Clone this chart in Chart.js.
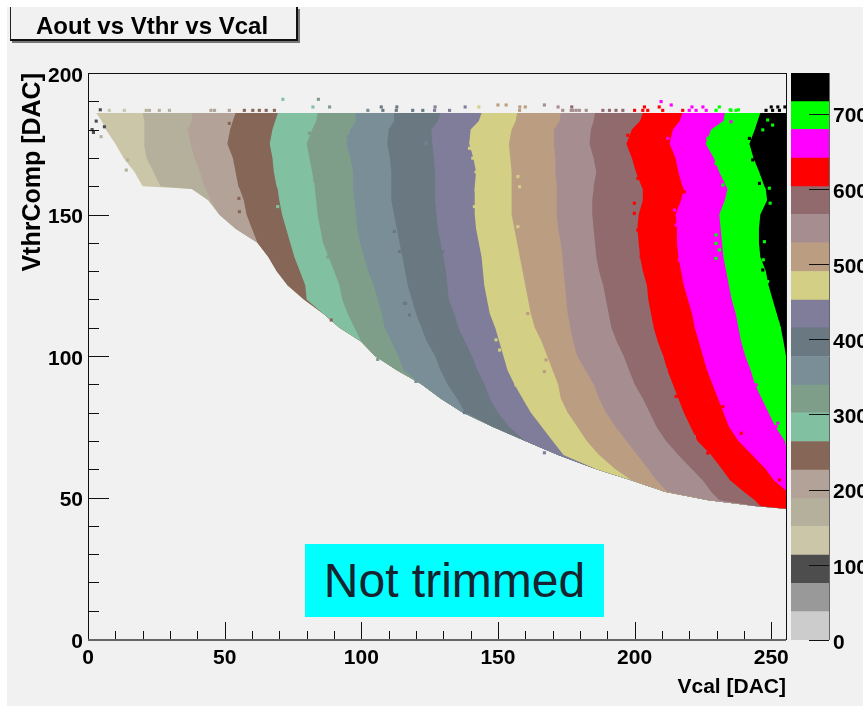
<!DOCTYPE html>
<html>
<head>
<meta charset="utf-8">
<style>
html, body { margin: 0; padding: 0; background: #fff; overflow: hidden; }
#panel { position: absolute; left: 7px; top: 7px; width: 856px; height: 699px; background: #f1f1f1; }
#plot { position: absolute; left: 0; top: 0; }
#zbar { position: absolute; left: 791px; top: 0; }
#title { position: absolute; left: 10px; top: 7px; width: 285px; height: 32px; background: #f1f1f1; box-sizing: content-box;
  border-left: 1px solid #222; border-right: 2px solid #111; border-bottom: 2px solid #111; box-shadow: 2px 2px 0 #777;
  font: bold 24px "Liberation Sans", Arial, sans-serif; color: #000; line-height: 38px; text-indent: 25px; white-space: nowrap; }
#note { position: absolute; left: 305px; top: 544px; width: 299px; height: 73px; background: #00ffff;
  font: 48px "Liberation Sans", Arial, sans-serif; color: #17232e; line-height: 73px; text-align: center; }
</style>
</head>
<body>
<div id="panel"></div>
<canvas id="plot" width="863" height="706"></canvas>
<canvas id="zbar" width="72" height="706"></canvas>
<div id="title">Aout vs Vthr vs Vcal</div>
<div id="note">Not trimmed</div>
<script src="https://cdn.jsdelivr.net/npm/chart.js@4/dist/chart.umd.js"></script>
<script>
const rowsY = [46,47,49,52,56,60,65,70,75,80,85,90,95,100,105,110,115,120,125,130,135,140,145,150,155,159,160,165,170,175,180,183,185.9];

// Vcal position of each edge, one value per row
const edge0  = [255,244,227,211,199,186,172,160,148,137,129,122,113,105,100,92,86,79,73,69,66,62,54,48,44,38,20,17,13,10,6.5,5,3];
const edge1  = [255,244,227,211,199,186,172,160,148,137,129,122,113,105,100,92,86,79,73,69,66,62,54,48,44,38,26.5,24,21.4,20.5,20.5,20.7,20];
const edge2  = [255,244,227,211,199,186,172,160,148,137,129,122,113,105,100,92,86,79,73,69,66,62,54,48,45,43,42.5,41,39,37.5,36.5,38,38];
const edge3  = [255,244,227,211,199,186,172,160,148,137,129,122,113,105,100,92,86,79,73,69,66,62,60,58,57,55.5,55,54,53,51,52,53,54];
const edge4  = [255,244,227,211,199,186,172,160,148,137,129,122,113,105,100,92,86,80,79.5,77.5,75.5,74,72.5,71,70,69.4,69,68,67.5,66.5,67.5,68.5,69.5];
const edge5  = [255,244,227,211,199,186,172,160,148,137,129,122,113,105,100,97.5,95,93,92,90,88,86,85,84,83.5,83,83,82,81,80,82,83.5,84];
const edge6  = [255,244,227,211,199,186,172,160,148,137,129,122,115.5,113.5,111,108.5,107.5,106,104.5,102.5,101,99.5,98.5,98,97.5,97,97,97,96,94.5,96,98,98];
const edge7  = [255,244,227,211,199,186,172,160,148,138,135,131.5,129,127,124,122,120,118.5,117,116,115,114,113,112,111,111,111,111,110.5,109.5,110,112,112];
const edge8  = [255,244,227,211,199,186,172,160,154,150,147,145,142.5,140.5,138,135.5,134,132,131.5,131,130,129,128,127.5,127,127,127,127,126.5,126,125.6,128,129];
const edge9  = [255,244,227,211,199,186,174,170,166,162,159,156,153.5,152,150.5,149,147,146,145,144.5,144,143,142,141.5,141.5,141.5,141.5,142,141,139.5,140,143,144];
const edge10 = [255,244,227,211,199,193,187,182.5,179,175.5,173,172,170,168,166,163.5,162,161,160,159,158,157,156,155,155,155,155,155,154.5,154,155,156.5,157];
const edge11 = [255,244,227,212,208,205,201,197,193,189.5,187,185,182,179,177.5,176.5,175.5,175,174.5,174,173.6,173,172,171.5,171.5,171.5,171.5,171,171,170.5,170.5,172.5,173];
const edge12 = [255,244,231,228,225,221,216,211.5,208,205.5,203,200,198,196,193.5,191.5,190.5,189.5,188.5,187,186,185.5,185,184.5,184.5,185,185,186,185,183.5,184,185,185.5];
const edge13 = [255,246,244,240,235,232,228,223,220.5,218,216,214,212,210.5,208.5,207,206,205,204.5,203,202,201.5,201,201.5,203,203,202.5,200.5,199,197,199,202,203];
const edge14 = [256,256,256,256,251,248,243,238,234.5,232.5,230.5,228.5,226.5,225,223.5,222,221,219.5,218,217,216,215.5,215.5,215,217,218,217.5,216,215,212.8,214,216.5,217.5];
const edge15 = [256,256,256,256,256,256,256,255,251.5,249,246.5,244,242.5,240.5,239,238,237,235.5,234.5,233.5,232.5,232,231.5,231,233,234,233.5,231,229,226,228,232.5,233];
const edge16 = [256,256,256,256,256,256,256,256,256,256,256,256,256,255.4,254.5,253.5,252,250.5,249,248,246,245.5,245.5,246,248.5,248,247.5,245.6,243.5,242,244,245,246];
const edge17 = [256,256,256,256,256,256,256,256,256,256,256,256,256,256,256,256,256,256,256,256,256,256,256,256,256,256,256,256,256,256,256,256,256];

// palette, lowest level first
const zColours = ['#cccccc','#999999','#4d4d4d','#cbc6a8','#b5b09c','#b3a297','#866656','#82c0a2','#7f9e8a','#7a8e98','#6a7882','#7f7d99','#d3cf85','#bb9e82','#a68e90','#916a6e','#ff0000','#ff00ff','#00ff00','#000000'];
const zLevels = [0,37.7,75.4,113,151,188,226,264,302,339,377,415,452,490,528,566,603,641,679,716,754];
const zTicks = [0,100,200,300,400,500,600,700];

// bins sticking out of the bands: Vcal, Vthr, palette index
const strayBins = [
    // above the top edge
    [71.3,190.7,7],[84.3,190.7,8],[82.3,188,7],[88.4,188,8],[107.3,188,10],[113,188,10],[127,188,11],[138,188,11],[143,188,12],
    [150,188.7,13],[153,188.7,13],[158,188,13],[160,188,13],[167,188.7,14],[172,188,14],[177,188,15],
    [209.7,189.9,17],[213.4,188.7,17],[221,188,17],[225,188,17],[231,188,18],[235,187,18],[238,187,18],[250,188,19],[252.4,188,19],[255,188,19],[203.6,188,16],[209,188,16],
    [7.8,186.8,3],[13.3,186.8,3],[21.3,186.8,4],[22.5,186.8,4],[26.1,186.8,4],[29.8,186.8,4],[45,186.8,5],[46.3,186.8,5],[51.7,186.8,5],
    [57.2,186.8,6],[60.3,186.8,6],[62.7,186.8,6],[65.2,186.8,6],[68.2,186.8,6],[102.4,186.8,9],[107.9,186.8,10],[112.8,186.8,10],
    [118.8,186.8,10],[122.5,186.8,10],[126.8,186.8,11],[132.3,186.8,11],[157.9,186.8,13],[173.7,186.8,14],[176.8,186.8,14],[178.6,186.8,14],
    [177.4,186.8,14],[179.8,186.8,14],[182.3,186.8,14],[188.4,186.8,15],[190.8,186.8,15],[193.2,186.8,15],[195.7,186.8,15],
    [200,186.8,16],[203,186.8,16],[204.8,186.8,16],[210.3,186.8,16],[217.6,186.8,16],[220,186.8,17],[222.5,186.8,17],[226.2,186.8,17],
    [229.8,186.8,18],[235.3,186.8,18],[237.1,186.8,18],[248.1,186.8,19],[250.5,186.8,19],[253,186.8,19],
    // dark bins at the far left
    [3,183,2],[4.5,187,2],[2,179,2],[6,181,2],[1.5,180,2],[4.8,177.5,4],
    // along the band edges
    [14,165.7,4],[14.5,169.3,4],[24.9,164.5,4],[51.7,182.2,6],[55.4,151,6],[55.2,155.7,6],
    [68.8,171,7],[71.3,161,7],[69.4,152.8,7],[72.5,149.2,7],[81,178.7,8],[82.9,165.7,8],[82.9,162.2,8],[87.8,135,8],[89,112.7,6],
    [95.1,177.5,9],[106,98.8,8],[112.1,144,10],[113.97,136.9,10],[116.2,118.6,10],[115.8,118.6,10],[117.6,114.5,10],[120,91,9],
    [123.7,175.2,11],[129.8,136.9,10],[137.8,80,10],[140.2,175.7,12],[139.6,173.4,12],[140.8,169.9,12],[142,165,12],[141.4,152.8,12],[142,158.7,12],
    [149.3,105.7,12],[150.6,102.1,12],[156.6,89.8,12],[157.3,163.4,12],[157.9,159.8,12],[157.3,145.7,12],[160.9,115,13],[164,112.7,13],[167,94.5,13],[167.6,98.6,13],[167,65.8,11],
    [197.5,178,16],[198.1,174,16],[201.2,166.9,16],[201.2,162.8,16],[199.9,154,16],[199.9,150.4,16],[201.2,144.5,16],[202.4,135.1,16],
    [209.1,96.3,15],[211.5,95.1,15],[215.2,85.7,16],[221.9,71.5,15],[226.8,65.7,16],
    [212.1,176.9,17],[214,174,17],[215.2,171,17],[214.6,151.6,17],[215.2,146.3,17],[216.4,133.9,17],[218.2,158,16],[232.3,82.1,16],[239,72.7,16],[240.2,66.2,16],[253,56.2,16],
    [226.8,176.9,18],[228,174,18],[229.8,168,18],[232.3,160.4,18],[229.8,142.8,18],[229.8,139.8,18],[231,137.5,18],[229.8,134.5,18],[235.3,182.8,17],[244.5,89.8,17],[240.8,92.7,17],[251.8,75.1,17],[252.4,76.3,17],
    [242,176.9,19],[243.2,169.3,19],[245.7,161,19],[246.3,139.8,19],[246.9,130.4,19],
    [248.7,183.4,18],[250.5,181.6,18],[246.9,179.9,18],[249.3,159.3,18],[249.6,154,18],[247.5,140.4,18],[247.1,134,18],[248.7,126.3,18],[251.2,115.1,18],[252.4,111.6,18],[253,109.8,18]
];

const minorX = [10,20,30,40,60,70,80,90,110,120,130,140,160,170,180,190,210,220,230,240];
const minorY = [10,20,30,40,60,70,80,90,110,120,130,140,160,170,180,190];

const edges = [edge0,edge1,edge2,edge3,edge4,edge5,edge6,edge7,edge8,edge9,edge10,edge11,edge12,edge13,edge14,edge15,edge16,edge17];
const lastEdge = edges.length - 1;
const tickFont = { family: '"Liberation Sans", Arial, sans-serif', size: 21, weight: 'bold' };

// each band fills up to the right edge and the next one paints over it, so there are no seams
const bandSets = edges.map((edge, i) => {
    const colour = i < lastEdge ? zColours[i + 3] : 'rgba(0,0,0,0)';
    return {
        label: 'band ' + i,
        data: rowsY.map((y, k) => ({ x: edge[k], y: y })),
        fill: i < lastEdge ? lastEdge : false,
        backgroundColor: colour,
        borderColor: 'rgba(0,0,0,0)',
        borderWidth: 0,
        pointRadius: 0,
        tension: 0,
        order: lastEdge - i
    };
});

const straySet = {
    type: 'scatter',
    label: 'stray bins',
    data: strayBins.map(b => ({ x: b[0], y: b[1] })),
    pointStyle: 'rect',
    pointRadius: 2.2,
    pointBorderWidth: 0,
    pointBackgroundColor: strayBins.map(b => zColours[b[2]]),
    showLine: false,
    order: -1
};

// ROOT style frame, ticks point into the plot
const plotFrame = {
    id: 'plotFrame',
    afterDatasetsDraw(chart) {
        const { ctx, chartArea: a, scales: { x, y } } = chart;
        ctx.save();
        ctx.strokeStyle = '#111';
        ctx.lineWidth = 1;
        ctx.strokeRect(a.left + 0.5, a.top + 0.5, a.right - a.left, a.bottom - a.top);
        ctx.beginPath();
        minorX.forEach(v => { const p = Math.round(x.getPixelForValue(v)) + 0.5; ctx.moveTo(p, a.bottom); ctx.lineTo(p, a.bottom - 8); });
        minorY.forEach(v => { const p = Math.round(y.getPixelForValue(v)) + 0.5; ctx.moveTo(a.left, p); ctx.lineTo(a.left + 11, p); });
        x.ticks.forEach(t => { const p = Math.round(x.getPixelForValue(t.value)) + 0.5; ctx.moveTo(p, a.bottom); ctx.lineTo(p, a.bottom - 17); });
        y.ticks.forEach(t => { const p = Math.round(y.getPixelForValue(t.value)) + 0.5; ctx.moveTo(a.left, p); ctx.lineTo(a.left + 21, p); });
        ctx.stroke();
        ctx.strokeStyle = '#666';
        ctx.lineWidth = 2;
        ctx.beginPath();
        ctx.moveTo(a.left, a.bottom + 1);
        ctx.lineTo(a.right, a.bottom + 1);
        ctx.stroke();
        ctx.restore();
    }
};

new Chart(document.getElementById('plot'), {
    type: 'line',
    data: { datasets: [...bandSets, straySet] },
    plugins: [plotFrame],
    options: {
        indexAxis: 'y',
        responsive: false,
        animation: false,
        layout: { padding: { left: 0, top: 73, right: 77, bottom: 0 } },
        plugins: { legend: { display: false }, tooltip: { enabled: false } },
        scales: {
            x: {
                type: 'linear', min: 0, max: 255.4,
                afterFit(scale) { scale.height = 67; },
                grid: { display: false, drawTicks: false },
                border: { display: false },
                ticks: { stepSize: 50, includeBounds: false, color: '#000', font: tickFont, padding: 7, maxRotation: 0 },
                title: { display: true, text: 'Vcal [DAC]', align: 'end', color: '#000', font: tickFont, padding: { top: 4, bottom: 6 } }
            },
            y: {
                type: 'linear', min: 0, max: 200,
                afterFit(scale) { scale.width = 88; },
                grid: { display: false, drawTicks: false },
                border: { display: false },
                ticks: { stepSize: 50, includeBounds: false, color: '#000', font: tickFont, padding: 5, labelOffset: 3 },
                title: { display: true, text: 'VthrComp [DAC]', align: 'end', color: '#000',
                    font: { family: tickFont.family, size: 25, weight: 'bold' }, padding: { top: 18, bottom: 0 } }
            }
        }
    }
});

const zFrame = {
    id: 'zFrame',
    afterDatasetsDraw(chart) {
        const { ctx, chartArea: a, scales: { y } } = chart;
        ctx.save();
        ctx.strokeStyle = '#666';
        ctx.lineWidth = 1;
        ctx.beginPath();
        ctx.moveTo(a.right + 0.5, a.top);
        ctx.lineTo(a.right + 0.5, a.bottom);
        ctx.stroke();
        ctx.strokeStyle = '#111';
        ctx.beginPath();
        y.ticks.forEach(t => { const p = Math.round(y.getPixelForValue(t.value)) + 0.5; ctx.moveTo(a.right, p); ctx.lineTo(a.right - 20, p); });
        ctx.stroke();
        ctx.restore();
    }
};

new Chart(document.getElementById('zbar'), {
    type: 'bar',
    data: {
        labels: ['Aout'],
        datasets: zColours.map((c, i) => ({
            label: 'level ' + i,
            data: [zLevels[i + 1] - zLevels[i]],
            backgroundColor: c,
            barPercentage: 1,
            categoryPercentage: 1
        }))
    },
    plugins: [zFrame],
    options: {
        responsive: false,
        animation: false,
        layout: { padding: { left: 0, top: 73, right: 0, bottom: 66 } },
        plugins: { legend: { display: false }, tooltip: { enabled: false } },
        scales: {
            x: { stacked: true, display: false },
            y: {
                stacked: true, position: 'right', min: 0, max: zLevels[zLevels.length - 1],
                afterFit(scale) { scale.width = 34; },
                afterBuildTicks(scale) { scale.ticks = zTicks.map(v => ({ value: v })); },
                grid: { display: false, drawTicks: false },
                border: { display: false },
                ticks: { autoSkip: false, maxRotation: 0, color: '#000', font: tickFont, padding: 4, labelOffset: 3 }
            }
        }
    }
});
</script>
</body>
</html>
